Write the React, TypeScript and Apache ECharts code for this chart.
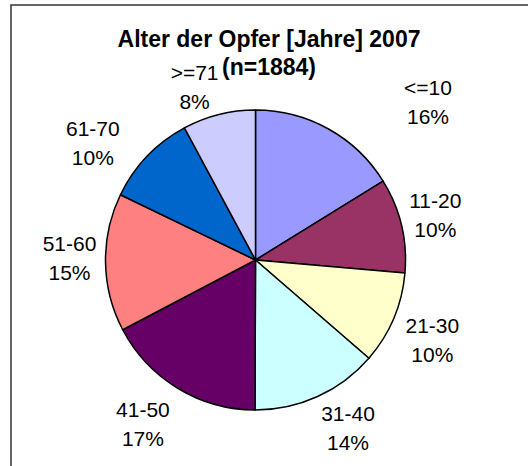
import React, { useEffect, useRef } from 'react';
import * as echarts from 'echarts';

const categories = ['<=10', '11-20', '21-30', '31-40', '41-50', '51-60', '61-70', '>=71'];
const counts = [305, 192, 188, 258, 325, 280, 188, 148];
const sliceColors = ['#9999FF', '#993366', '#FFFFCC', '#CCFFFF', '#660066', '#FF8080', '#0066CC', '#CCCCFF'];
const titleLine1 = 'Alter der Opfer [Jahre] 2007';
const titleLine2 = '(n=1884)';

const FONT = '"Liberation Sans", Arial, Helvetica, sans-serif';
const CX = 255.5;
const CY = 260;
const RADIUS = 150;
const LABEL_DIST = 42;
// small per-label nudges (Excel placed some labels by hand)
const labelNudge: [number, number][] = [
  [79, 10], [-7, -1], [0, 5], [13, -7], [-13, 0], [6, -5], [-24, 16], [-14, 13],
];

export default function App() {
  const ref = useRef<HTMLDivElement>(null);
  useEffect(() => {
    if (!ref.current) return;
    const chart = echarts.init(ref.current, undefined, { renderer: 'svg' });
    const total = counts.reduce((a, b) => a + b, 0);
    const data = categories.map((name, i) => ({
      name,
      value: counts[i],
      itemStyle: { color: sliceColors[i] },
    }));
    chart.setOption({
      animation: false,
      backgroundColor: '#fff',
      title: {
        text: titleLine1 + '\n' + titleLine2,
        left: 264,
        textAlign: 'center',
        top: 20,
        textStyle: {
          fontFamily: FONT,
          fontSize: 23,
          fontWeight: 'bold',
          lineHeight: 28,
          color: '#000',
        },
      },
      graphic: [
        {
          type: 'rect',
          shape: { x: 11, y: 5, width: 700, height: 700 },
          style: { fill: 'none', stroke: '#333', lineWidth: 1.5 },
          silent: true,
          z: 100,
        },
      ],
      series: [
        {
          type: 'pie',
          center: [CX, CY],
          radius: RADIUS,
          startAngle: 90,
          clockwise: true,
          avoidLabelOverlap: false,
          percentPrecision: 0,
          data,
          itemStyle: { borderColor: '#000', borderWidth: 1.5 },
          emphasis: { disabled: true },
          label: {
            show: true,
            position: 'outside',
            formatter: '{b}\n{d}%',
            fontFamily: FONT,
            fontSize: 21,
            lineHeight: 29,
            color: '#000',
          },
          labelLine: {
            show: true,
            length: 10,
            length2: 0,
            lineStyle: { opacity: 0, width: 0 },
          },
          labelLayout: (params: any) => {
            const i = params.dataIndex;
            let dx: number;
            let dy: number;
            let px: number;
            let py: number;
            const pts = params.labelLinePoints;
            if (pts && pts.length >= 2) {
              dx = pts[1][0] - pts[0][0];
              dy = pts[1][1] - pts[0][1];
              const len = Math.hypot(dx, dy) || 1;
              dx /= len;
              dy /= len;
              px = pts[0][0];
              py = pts[0][1];
            } else {
              let before = 0;
              for (let k = 0; k < i; k++) before += counts[k];
              const mid = ((before + counts[i] / 2) / total) * Math.PI * 2;
              dx = Math.sin(mid);
              dy = -Math.cos(mid);
              px = CX + dx * RADIUS;
              py = CY + dy * RADIUS;
            }
            const n = labelNudge[i] || [0, 0];
            return {
              x: px + dx * LABEL_DIST + n[0],
              y: py + dy * LABEL_DIST + n[1],
              align: 'center',
              verticalAlign: 'middle',
            };
          },
        },
      ],
    });
    return () => chart.dispose();
  }, []);
  return (
    <div
      ref={ref}
      style={{ position: 'absolute', left: 0, top: 0, width: 528, height: 466, background: '#fff' }}
    />
  );
}
